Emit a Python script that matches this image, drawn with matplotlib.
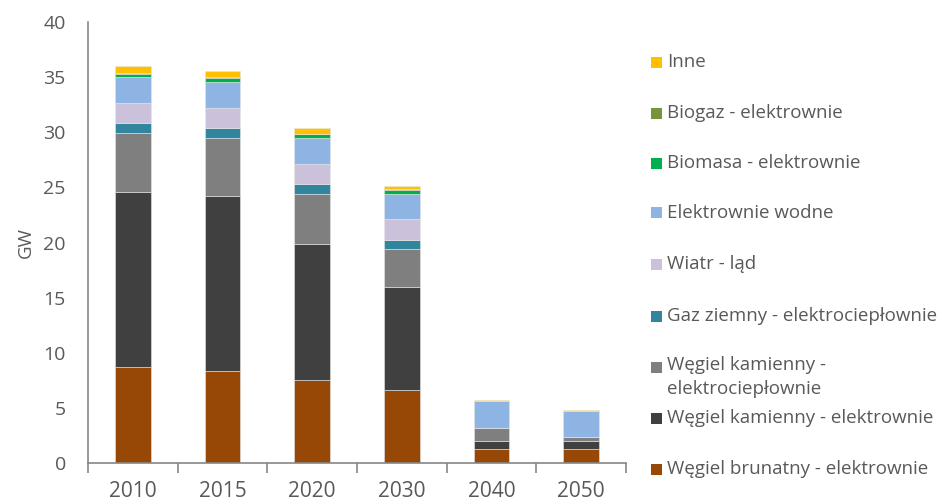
import matplotlib.pyplot as plt
from matplotlib.patches import Rectangle
import numpy as np

plt.rcParams['font.family'] = ['Open Sans', 'DejaVu Sans']

years = ['2010', '2015', '2020', '2030', '2040', '2050']

# installed capacity in GW, stacked bottom to top
wegiel_brunatny = [8.7, 8.3, 7.5, 6.6, 1.3, 1.3]
wegiel_kam_el = [15.9, 15.9, 12.4, 9.4, 0.7, 0.7]
wegiel_kam_ec = [5.35, 5.3, 4.5, 3.4, 1.2, 0.4]
gaz_ec = [0.85, 0.9, 0.9, 0.8, 0.0, 0.0]
wiatr_lad = [1.85, 1.8, 1.8, 1.9, 0.0, 0.0]
wodne = [2.35, 2.4, 2.35, 2.3, 2.4, 2.35]
biomasa = [0.3, 0.35, 0.35, 0.4, 0.0, 0.0]
biogaz = [0.1, 0.05, 0.05, 0.05, 0.0, 0.0]
inne = [0.6, 0.55, 0.5, 0.3, 0.1, 0.1]

series = [
    ('Węgiel brunatny - elektrownie', wegiel_brunatny, '#974706'),
    ('Węgiel kamienny - elektrownie', wegiel_kam_el, '#404040'),
    ('Węgiel kamienny -\nelektrociepłownie', wegiel_kam_ec, '#7f7f7f'),
    ('Gaz ziemny - elektrociepłownie', gaz_ec, '#31859c'),
    ('Wiatr - ląd', wiatr_lad, '#ccc1da'),
    ('Elektrownie wodne', wodne, '#8eb4e3'),
    ('Biomasa - elektrownie', biomasa, '#00b050'),
    ('Biogaz - elektrownie', biogaz, '#77933c'),
    ('Inne', inne, '#ffc000'),
]

text_col = '#595959'
axis_col = '#868686'

fig = plt.figure(figsize=(9.4, 5.03), dpi=100)
ax = fig.add_axes([88 / 940, 40 / 503, 538 / 940, 441 / 503])

x = np.arange(len(years))
bottom = np.zeros(len(years))
for label, vals, col in series:
    vals = np.array(vals)
    ax.bar(x, vals, width=0.4, bottom=bottom, color=col,
           edgecolor='#e6e6e6', linewidth=0.4)
    bottom += vals

ax.set_xlim(-0.5, len(years) - 0.5)
ax.set_ylim(0, 40)
ax.set_yticks(range(0, 41, 5))
ax.tick_params(axis='y', length=0, pad=16, labelsize=14, labelcolor=text_col)

# ticks between categories, labels at category centres
ax.set_xticks(np.arange(-0.5, len(years), 1.0))
ax.set_xticklabels([])
ax.set_xticks(x, minor=True)
ax.set_xticklabels(years, minor=True)
ax.tick_params(axis='x', which='major', length=7, width=1.2, color=axis_col,
               direction='out')
ax.tick_params(axis='x', which='minor', length=0, pad=13, labelsize=15,
               labelcolor=text_col)

for side in ['top', 'right']:
    ax.spines[side].set_visible(False)
for side in ['left', 'bottom']:
    ax.spines[side].set_color(axis_col)
    ax.spines[side].set_linewidth(1.2)

ax.set_ylabel('GW', fontsize=13.5, color=text_col, labelpad=6)

# legend on the right, top entry is the top of the stack
legend_y = [469, 418, 367, 316, 264, 213, 163, 113, 62]
for (label, vals, col), ly in zip(series, legend_y):
    fig.add_artist(Rectangle((651 / 940, 1 - (ly + 5.5) / 503), 11 / 940, 11 / 503,
                             transform=fig.transFigure, color=col, linewidth=0))
    if '\n' in label:
        fig.text(667 / 940, 1 - (ly - 11) / 503, label, fontsize=13.5,
                 color=text_col, va='top', ha='left', linespacing=1.4)
    else:
        fig.text(667 / 940, 1 - ly / 503, label, fontsize=13.5,
                 color=text_col, va='center', ha='left')

fig.savefig('out.png', dpi=100)
